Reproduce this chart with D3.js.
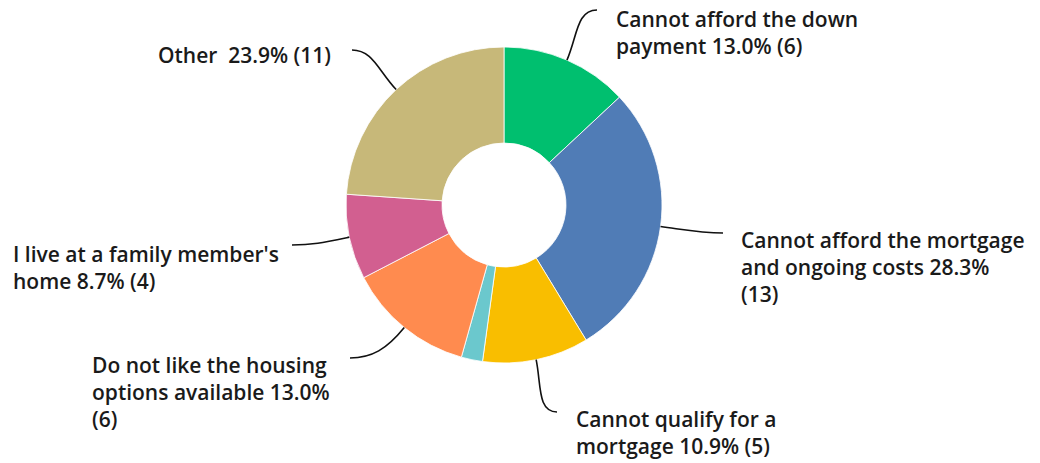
<!DOCTYPE html>
<html>
<head>
<meta charset="utf-8">
<script src="https://cdn.jsdelivr.net/npm/d3@7"></script>
<style>
  html, body { margin: 0; padding: 0; background: #fff; }
  svg text { font-family: "Open Sans", Roboto, "Noto Sans", sans-serif; font-weight: 600; fill: #1a1a1a; }
</style>
</head>
<body>
<svg id="chart" width="1040" height="463"></svg>
<script>
// ---- data ----
const categories = [
  "Cannot afford the down payment",
  "Cannot afford the mortgage and ongoing costs",
  "Cannot qualify for a mortgage",
  "Other option",
  "Do not like the housing options available",
  "I live at a family member's home",
  "Other"
];
const counts = [6, 13, 5, 1, 6, 4, 11];
const percents = ["13.0%", "28.3%", "10.9%", "2.2%", "13.0%", "8.7%", "23.9%"];
const labelLines = [
  ["Cannot afford the down", "payment 13.0% (6)"],
  ["Cannot afford the mortgage", "and ongoing costs 28.3%", "(13)"],
  ["Cannot qualify for a", "mortgage 10.9% (5)"],
  null,
  ["Do not like the housing", "options available 13.0%", "(6)"],
  ["I live at a family member's", "home 8.7% (4)"],
  ["Other  23.9% (11)"]
];
const colors = ["#00BF6F", "#507CB6", "#F9BE00", "#6BC8CD", "#FF8B4F", "#D25F90", "#C7B879"];

// ---- layout ----
const cx = 504, cy = 205, outerR = 158, innerR = 62;
const fontSize = 21, lineH = 27;
// label anchor: [text left x, first baseline y, leader end x, leader end y]
const labelLayout = [
  [616, 27, 597, 10],
  [741, 248, 723, 233],
  [576, 427, 557, 412],
  null,
  [92, 373, 350, 358],
  [13, 262, 292, 245],
  [158, 63, 352, 50]
];

const svg = d3.select("#chart");
const g = svg.append("g").attr("transform", `translate(${cx},${cy})`);

const pie = d3.pie().sort(null).value(d => d)(counts);
const arc = d3.arc().innerRadius(innerR).outerRadius(outerR);

g.selectAll("path.slice")
  .data(pie)
  .join("path")
  .attr("class", "slice")
  .attr("d", arc)
  .attr("fill", (d, i) => colors[i])
  .attr("stroke", "#ffffff")
  .attr("stroke-width", 0.8);

// leader lines + labels
pie.forEach((d, i) => {
  const lay = labelLayout[i];
  if (!lay || !labelLines[i]) return;
  const mid = (d.startAngle + d.endAngle) / 2;
  const sx = cx + outerR * Math.sin(mid);
  const sy = cy - outerR * Math.cos(mid);
  const ex = lay[2], ey = lay[3];
  const L = Math.hypot(ex - sx, ey - sy);
  const dirX = Math.sin(mid), dirY = -Math.cos(mid);
  const hx = ex > sx ? 1 : -1;
  const c1x = sx + dirX * L * 0.45, c1y = sy + dirY * L * 0.45;
  const c2x = ex - hx * L * 0.35, c2y = ey;
  const p = d3.path();
  p.moveTo(sx, sy);
  p.bezierCurveTo(c1x, c1y, c2x, c2y, ex, ey);
  svg.append("path")
    .attr("d", p.toString())
    .attr("fill", "none")
    .attr("stroke", "#111")
    .attr("stroke-width", 1.6);

  const t = svg.append("text")
    .attr("x", lay[0])
    .attr("y", lay[1])
    .attr("font-size", fontSize)
    .attr("xml:space", "preserve")
    .style("white-space", "pre");
  labelLines[i].forEach((ln, k) => {
    t.append("tspan")
      .attr("x", lay[0])
      .attr("y", lay[1] + k * lineH)
      .text(ln);
  });
});
</script>
</body>
</html>
